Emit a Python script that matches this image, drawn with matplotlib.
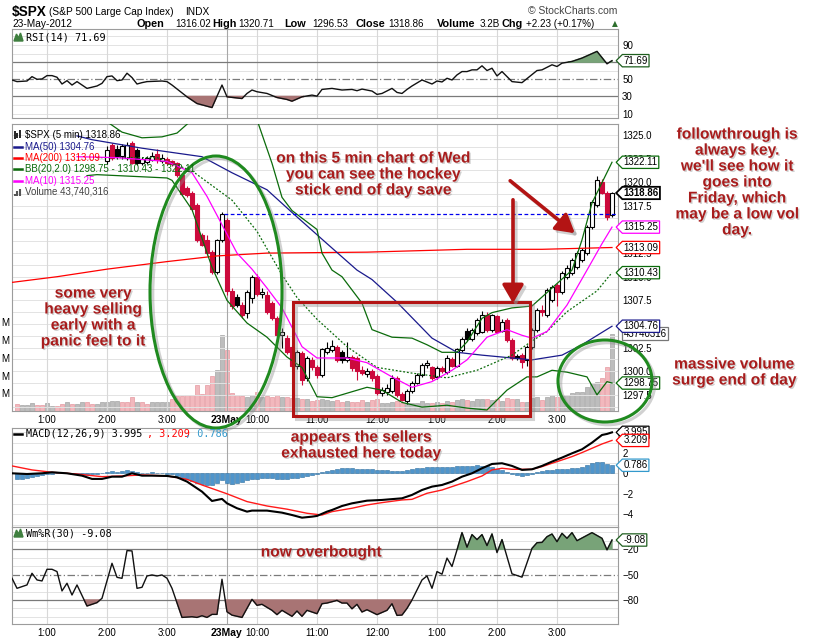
import matplotlib
matplotlib.use("Agg")
import matplotlib.pyplot as plt
import matplotlib.transforms as mtransforms
import matplotlib.patheffects as pe
from matplotlib.patches import Rectangle, Ellipse, FancyArrowPatch
from matplotlib.path import Path

plt.rcParams['font.family'] = ['Liberation Sans', 'DejaVu Sans']

# ---------------- data (5 min bars, index 0 = 22-May 12:30) ----------------
time_ticks = [6, 18, 30, 42, 48, 60, 72, 84, 96, 108]
time_labels = ['1:00', '2:00', '3:00', '23May', '10:00', '11:00', '12:00', '1:00', '2:00', '3:00']
day_break = 42
prev_close = 1316.63

# candles from bar 18 to 119 (earlier bars are above the price scale)
candle_start = 18
opens = [1322.2, 1323.9, 1323.5, 1322.8, 1322.6, 1324.2, 1323.4, 1322.0, 1322.1, 1322.4,
         1323.0, 1322.2, 1322.5, 1322.2, 1322.0, 1320.8, 1319.4, 1318.9, 1317.6, 1314.4,
         1313.9, 1312.6, 1310.5, 1313.9, 1316.02, 1308.5, 1307.9, 1307.0, 1306.2, 1307.7,
         1310.0, 1308.2, 1308.1, 1307.2, 1305.6, 1303.8, 1303.5, 1302.6, 1300.5, 1301.9,
         1299.3, 1301.2, 1300.4, 1299.6, 1302.0, 1302.2, 1302.6, 1302.0, 1301.2, 1301.5,
         1301.4, 1300.1, 1299.7, 1300.0, 1299.5, 1297.7, 1297.8, 1297.9, 1299.3, 1297.6,
         1296.9, 1297.9, 1298.8, 1299.6, 1300.7, 1300.4, 1299.4, 1300.3, 1299.9, 1301.3,
         1300.6, 1302.2, 1304.3, 1303.4, 1304.0, 1304.2, 1306.0, 1304.4, 1305.8, 1304.3,
         1305.4, 1303.3, 1301.6, 1301.7, 1301.2, 1302.6, 1304.4, 1306.5, 1305.9, 1307.5,
         1309.1, 1308.4, 1310.0, 1310.4, 1311.0, 1311.8, 1312.5, 1315.3, 1317.6, 1320.0,
         1318.9, 1316.5]
highs = [1323.8, 1324.1, 1323.9, 1324.0, 1324.3, 1324.4, 1323.6, 1322.7, 1322.8, 1323.2,
         1323.5, 1323.0, 1322.7, 1322.4, 1322.1, 1321.0, 1319.6, 1319.1, 1317.8, 1314.6,
         1314.4, 1312.8, 1314.0, 1316.9, 1316.2, 1308.8, 1308.2, 1307.3, 1308.6, 1310.2,
         1310.3, 1308.8, 1308.5, 1307.4, 1305.8, 1304.6, 1303.8, 1302.8, 1302.2, 1302.1,
         1301.6, 1301.5, 1300.7, 1302.5, 1303.1, 1303.3, 1302.8, 1302.2, 1303.1, 1301.7,
         1301.6, 1300.5, 1300.3, 1300.2, 1299.7, 1298.3, 1298.6, 1299.6, 1299.5, 1297.8,
         1298.1, 1299.0, 1299.8, 1300.9, 1301.2, 1300.6, 1300.5, 1300.6, 1301.7, 1301.5,
         1302.5, 1303.6, 1304.6, 1304.6, 1305.6, 1306.4, 1306.3, 1306.1, 1306.0, 1305.5,
         1305.6, 1303.5, 1301.8, 1301.9, 1302.8, 1304.6, 1306.7, 1307.0, 1308.8, 1309.1,
         1309.3, 1310.6, 1311.2, 1312.0, 1312.7, 1313.0, 1315.5, 1318.1, 1320.71, 1320.3,
         1319.1, 1319.0]
lows = [1321.9, 1322.4, 1322.5, 1322.5, 1322.4, 1321.9, 1321.8, 1321.8, 1321.9, 1322.2,
        1322.0, 1322.0, 1321.8, 1321.7, 1320.6, 1318.6, 1318.4, 1317.0, 1313.7, 1313.2,
        1312.3, 1310.3, 1310.3, 1313.7, 1308.1, 1306.6, 1306.8, 1305.6, 1305.6, 1307.2,
        1308.0, 1307.8, 1306.1, 1305.4, 1303.6, 1302.5, 1301.8, 1300.3, 1300.2, 1298.5,
        1299.0, 1300.1, 1299.3, 1299.4, 1301.8, 1302.0, 1301.0, 1300.9, 1301.0, 1300.0,
        1299.1, 1299.6, 1299.4, 1299.0, 1297.5, 1297.4, 1297.5, 1297.7, 1297.3, 1296.8,
        1296.53, 1297.7, 1298.6, 1299.4, 1300.3, 1299.1, 1299.2, 1299.8, 1299.7, 1300.4,
        1300.4, 1302.0, 1303.2, 1303.2, 1303.8, 1304.0, 1304.2, 1304.2, 1304.0, 1304.1,
        1303.1, 1301.2, 1301.2, 1300.3, 1300.6, 1302.4, 1304.2, 1305.8, 1305.7, 1307.3,
        1306.9, 1308.2, 1309.8, 1310.2, 1310.8, 1311.6, 1312.3, 1315.1, 1317.4, 1318.7,
        1316.0, 1316.3]
closes = [1323.4, 1322.6, 1322.8, 1323.8, 1323.9, 1322.0, 1322.0, 1322.5, 1322.6, 1322.8,
          1322.3, 1322.6, 1322.0, 1321.9, 1320.8, 1318.8, 1318.6, 1317.2, 1313.9, 1313.4,
          1312.5, 1310.5, 1313.9, 1316.63, 1308.5, 1306.9, 1307.0, 1305.9, 1308.4, 1310.0,
          1308.2, 1308.4, 1306.3, 1305.6, 1303.8, 1304.1, 1302.0, 1300.5, 1302.0, 1299.1,
          1301.4, 1300.4, 1299.6, 1302.3, 1302.5, 1302.7, 1301.2, 1301.2, 1301.5, 1300.3,
          1300.0, 1299.8, 1300.0, 1299.3, 1297.7, 1298.0, 1298.2, 1299.3, 1297.5, 1297.0,
          1297.9, 1298.8, 1299.6, 1300.7, 1300.9, 1299.3, 1300.3, 1300.0, 1301.4, 1300.6,
          1302.3, 1303.4, 1303.4, 1304.4, 1305.4, 1306.0, 1304.4, 1305.9, 1304.2, 1305.2,
          1303.3, 1301.4, 1301.4, 1301.0, 1302.6, 1304.4, 1306.5, 1306.3, 1308.6, 1308.9,
          1308.4, 1310.4, 1310.9, 1311.8, 1312.5, 1312.8, 1315.3, 1317.9, 1320.2, 1318.9,
          1316.3, 1318.86]

# volume in millions, one per bar 0..119, with up (g) / down (p) colouring
volume_m = [3.8, 3.5, 3.5, 4.7, 3.5, 3.5, 4.7, 3.1, 3.1, 3.8,
            5.2, 3.8, 3.8, 5.2, 4.8, 4.2, 4.2, 4.8, 4.8, 5.7,
            5.7, 4.8, 5.3, 7.9, 4.8, 5.3, 4.2, 4.8, 5.3, 5.3,
            4.8, 6.6, 8.5, 8.5, 9.0, 9.0, 14.7, 9.5, 14.7, 20.0,
            23.0, 42.9, 34.5, 10.0, 9.0, 8.5, 8.1, 9.0, 10.9, 8.1,
            8.5, 8.1, 9.0, 8.1, 8.1, 7.5, 7.5, 6.5, 6.5, 5.5,
            6.0, 7.0, 6.0, 5.5, 6.0, 5.0, 5.5, 5.0, 5.0, 6.0,
            5.0, 6.0, 7.0, 4.5, 4.5, 5.0, 5.5, 4.5, 4.5, 4.5,
            4.5, 5.5, 4.5, 4.5, 5.0, 4.5, 5.5, 5.0, 6.0, 6.5,
            6.0, 5.5, 6.5, 6.5, 7.0, 6.0, 6.5, 5.5, 7.5, 7.0,
            6.5, 5.3, 5.3, 7.2, 8.1, 6.2, 8.1, 9.0, 8.1, 9.0,
            9.0, 10.0, 10.9, 10.9, 13.7, 15.6, 16.6, 18.5, 25.0, 43.74]
volume_dir = ("pgggppggpp" "gpggppgggg" "gpppgppggg" "gppppppppp"
              "ggppppggpg" "pppgppgpgp" "pgggppgppp" "gppgggppgg"
              "gggpgpgpgg" "pgggpgpgpp" "gpgggpggpg" "gggggggppg")

# overlays: (bar index, price)
ma50_x = [12, 15, 25, 37, 43, 50, 55, 62, 68, 71, 76, 83, 88, 93, 99, 103, 109, 113, 119]
ma50_y = [1324.9, 1324.5, 1323.6, 1322.7, 1321.0, 1319.2, 1316.8, 1313.5, 1310.7, 1309.7,
          1307.3, 1303.5, 1302.0, 1301.7, 1301.4, 1301.2, 1301.7, 1302.8, 1304.76]
ma200_x = [-1, 8, 18, 30, 40, 50, 70, 90, 105, 119]
ma200_y = [1309.4, 1310.0, 1310.8, 1311.6, 1312.2, 1312.5, 1312.6, 1312.9, 1312.9, 1313.09]
bb_up_x = [18, 21, 25, 29, 32, 35, 40, 45, 48, 51, 53, 55, 60, 61, 63, 65, 69, 71, 75, 79,
           82, 85, 88, 90, 93, 95, 99, 103, 107, 111, 113, 115, 119]
bb_up_y = [1326.4, 1325.3, 1324.7, 1324.8, 1325.2, 1326.6, 1329.0, 1329.0, 1326.6, 1322.0,
           1318.4, 1317.0, 1315.0, 1312.5, 1310.7, 1310.0, 1307.2, 1304.4, 1303.6, 1303.5,
           1302.8, 1302.0, 1302.0, 1303.1, 1305.6, 1306.2, 1306.7, 1306.9, 1308.8, 1310.7,
           1313.9, 1317.8, 1322.11]
bb_mid_x = [16, 28, 35, 43, 48, 53, 56, 60, 66, 72, 79, 86, 92, 99, 103, 106, 110, 116, 119]
bb_mid_y = [1322.6, 1322.6, 1321.2, 1318.1, 1314.8, 1310.2, 1307.8, 1305.5, 1302.6, 1300.4,
            1299.8, 1299.3, 1300.1, 1301.7, 1303.2, 1304.2, 1306.3, 1308.5, 1310.43]
bb_low_x = [14, 16, 30, 31, 35, 39, 42, 46, 50, 54, 57, 60, 63, 70, 73, 77, 81, 86, 90, 94,
            98, 102, 104, 107, 110, 114, 116, 118, 119]
bb_low_y = [1320.7, 1320.8, 1320.45, 1320.2, 1317.1, 1311.0, 1307.5, 1305.1, 1303.6, 1301.5,
            1300.4, 1297.3, 1297.2, 1298.3, 1298.0, 1296.7, 1296.2, 1296.4, 1296.1, 1295.9,
            1298.0, 1299.4, 1299.4, 1300.1, 1299.9, 1299.4, 1297.5, 1298.9, 1298.75]
ma10_x = [12, 20, 30, 35, 38, 41, 44, 47, 50, 53, 57, 60, 66, 70, 75, 79, 83, 87, 90, 94,
          98, 101, 103, 106, 110, 114, 117, 119]
ma10_y = [1322.7, 1322.6, 1322.2, 1321.0, 1318.5, 1315.5, 1312.5, 1310.8, 1308.8, 1306.7,
          1302.6, 1301.4, 1301.4, 1300.9, 1299.4, 1298.3, 1298.9, 1300.1, 1301.2, 1303.6,
          1304.4, 1303.8, 1303.5, 1304.2, 1307.0, 1310.7, 1313.5, 1315.25]

rsi_x = [-1, 0, 2, 3, 4, 5, 6, 7, 8, 9, 10, 11, 12, 14, 16, 17, 18, 19, 20, 21, 22, 23, 24,
         25, 26, 29, 30, 31, 34, 36, 39, 41, 42, 45, 46, 47, 48, 50, 52, 54, 55, 57, 59, 60,
         61, 63, 65, 67, 68, 69, 71, 72, 73, 75, 76, 77, 78, 79, 81, 83, 84, 85, 86, 87, 88,
         89, 90, 91, 92, 93, 94, 95, 96, 97, 99, 101, 104, 105, 107, 108, 109, 111, 113, 116,
         118, 119]
rsi_y = [49.2, 47.3, 48.0, 53.1, 50.0, 50.4, 54.3, 54.3, 52.4, 44.5, 48.4, 43.3, 47.3, 39.4,
         42.2, 45.3, 53.1, 53.9, 48.4, 49.2, 57.1, 52.0, 44.5, 46.1, 47.3, 48.0, 47.3, 43.3,
         29.6, 21.8, 17.1, 43.3, 29.6, 27.6, 33.5, 37.5, 35.5, 33.5, 28.8, 26.5, 24.5, 29.6,
         31.6, 30.4, 38.2, 39.4, 37.5, 38.2, 36.7, 38.6, 36.3, 32.4, 33.5, 39.4, 34.7, 33.5,
         38.2, 42.2, 49.2, 44.5, 48.0, 46.9, 51.2, 49.2, 55.1, 59.0, 59.0, 61.0, 61.0, 65.7,
         60.2, 62.9, 53.9, 59.0, 47.3, 46.1, 60.2, 61.0, 66.9, 64.9, 68.8, 70.8, 74.7, 82.5,
         68.0, 71.69]

macd_x = [-1, 2, 5, 7, 10, 13, 15, 17, 19, 21, 23, 25, 27, 30, 32, 34, 37, 39, 41, 42, 44,
          46, 47, 50, 53, 55, 57, 59, 60, 62, 63, 65, 67, 70, 73, 77, 79, 81, 83, 85, 87, 89,
          91, 93, 95, 97, 99, 101, 103, 105, 107, 109, 111, 113, 115, 117, 118, 119]
macd_y = [0.0, -0.07, 0.0, 0.1, 0.0, -0.23, -0.55, -0.55, -0.33, -0.33, 0.0, -0.23, -0.23,
          -0.26, -0.39, -0.81, -1.79, -2.7, -2.5, -2.93, -3.41, -3.74, -3.64, -3.64, -3.84,
          -4.07, -4.33, -4.23, -4.16, -3.74, -3.58, -3.19, -2.93, -2.67, -2.6, -2.44, -2.11,
          -1.63, -1.3, -1.14, -0.81, -0.33, 0.0, 0.49, 0.91, 0.98, 0.72, 0.33, 0.39, 0.72,
          1.14, 1.53, 1.95, 2.34, 2.99, 3.74, 3.84, 3.995]
signal_x = [-1, 3, 7, 12, 17, 21, 25, 30, 34, 37, 42, 46, 50, 54, 58, 61, 63, 67, 70, 73, 77,
            79, 82, 85, 87, 90, 93, 95, 97, 99, 101, 103, 105, 107, 109, 111, 113, 115, 117, 119]
signal_y = [0.72, 0.33, 0.1, -0.07, -0.33, -0.26, -0.16, -0.26, -0.59, -1.14, -2.0, -2.76,
            -3.19, -3.5, -3.9, -4.07, -3.74, -3.41, -3.09, -2.86, -2.6, -2.54, -1.95, -1.63,
            -1.3, -0.81, -0.26, 0.33, 0.49, 0.39, 0.39, 0.39, 0.65, 0.98, 1.3, 1.63, 2.02,
            2.44, 2.86, 3.209]
macd_hist = [-0.55, -0.6, -0.5, -0.4, -0.3, -0.2, -0.1, -0.05, 0.0, 0.05,
             0.0, -0.05, -0.1, -0.15, -0.15, -0.1, -0.05, 0.05, 0.15, 0.2,
             0.15, 0.2, 0.3, 0.2, 0.1, 0.05, 0.05, 0.1, 0.05, 0.0,
             -0.05, -0.1, -0.25, -0.45, -0.6, -0.8, -0.95, -1.05, -1.1, -1.15,
             -0.95, -0.7, -0.95, -1.0, -0.95, -0.85, -0.7, -0.6, -0.55, -0.5,
             -0.5, -0.5, -0.55, -0.55, -0.55, -0.5, -0.45, -0.4, -0.3, -0.2,
             -0.05, 0.1, 0.25, 0.35, 0.45, 0.5, 0.55, 0.5, 0.45, 0.45,
             0.4, 0.4, 0.35, 0.3, 0.3, 0.25, 0.25, 0.2, 0.3, 0.4,
             0.5, 0.55, 0.6, 0.65, 0.65, 0.65, 0.65, 0.65, 0.7, 0.75,
             0.75, 0.75, 0.8, 0.75, 0.7, 0.6, 0.45, 0.3, 0.1, -0.05,
             -0.2, -0.25, -0.15, -0.05, 0.1, 0.2, 0.3, 0.35, 0.4, 0.45,
             0.45, 0.5, 0.55, 0.65, 0.85, 1.05, 1.15, 1.1, 0.95, 0.786]

wr_x = [-1, 0, 2, 3, 4, 5, 6, 7, 8, 9, 10, 11, 12, 14, 16, 17, 19, 20, 21, 22, 23, 24, 25,
        26, 27, 28, 29, 30, 31, 33, 35, 36, 37, 38, 39, 40, 41, 42, 43, 45, 47, 48, 49, 51,
        52, 53, 55, 56, 57, 58, 60, 61, 62, 64, 65, 66, 67, 68, 69, 70, 72, 74, 75, 76, 77,
        78, 79, 81, 82, 83, 84, 85, 86, 87, 88, 89, 90, 91, 92, 93, 94, 95, 96, 97, 99, 101,
        103, 104, 105, 106, 107, 108, 109, 110, 111, 112, 115, 117, 118, 119]
wr_y = [-54.3, -66.2, -62.2, -48.4, -56.3, -57.5, -43.7, -43.7, -46.4, -69.3, -60.2, -74.1,
        -62.2, -87.1, -83.1, -78.0, -36.6, -53.2, -54.4, -21.6, -22.0, -66.2, -65.0, -51.6,
        -50.4, -51.6, -50.4, -54.3, -66.2, -100.6, -99.8, -100.6, -98.6, -100.6, -97.0,
        -97.0, -55.5, -93.9, -97.9, -100.6, -79.2, -86.3, -85.1, -92.2, -97.3, -92.2, -99.3,
        -93.0, -99.3, -92.2, -96.2, -84.4, -83.6, -80.5, -83.6, -83.6, -90.4, -85.1, -94.2,
        -91.5, -97.3, -92.2, -84.4, -98.2, -97.8, -89.9, -80.0, -56.3, -51.6, -66.2, -46.4,
        -49.5, -30.5, -40.4, -20.8, -0.3, -17.6, -2.7, -8.6, -2.7, -15.7, -1.9, -24.0, -8.6,
        -49.1, -53.0, -19.0, -12.3, -11.9, -5.2, -2.0, -11.1, -1.2, -7.1, -0.4, -9.9, -0.4,
        -7.1, -20.8, -9.08]

# ---------------- figure ----------------
W, H = 817, 640
L, R = 12, 618
fig = plt.figure(figsize=(W / 100, H / 100), dpi=100)
fig.patch.set_facecolor('white')


def panel(top, bottom):
    return fig.add_axes([L / W, 1 - bottom / H, (R - L) / W, (bottom - top) / H])


def base(a, ylim, grid_levels, show_x=False):
    a.set_xlim(-1, 120.2)
    a.set_ylim(*ylim)
    for lvl in grid_levels:
        a.axhline(lvl, color='#e3e3e3', lw=0.7, zorder=0)
    for t in time_ticks:
        a.axvline(t, color='#a8a8a8' if t == day_break else '#d8d8d8', lw=0.8, zorder=0)
    for s in a.spines.values():
        s.set_color('#9c9c9c')
        s.set_linewidth(0.8)
    a.yaxis.tick_right()
    a.tick_params(axis='both', length=0, labelsize=7, pad=3)
    a.set_xticks(time_ticks)
    a.set_xticklabels(time_labels)
    a.tick_params(axis='x', labelbottom=show_x)
    if show_x:
        a.get_xticklabels()[3].set_fontweight('bold')
        a.get_xticklabels()[3].set_fontsize(7.5)


def tag_style(x0, y0, width, height, mutation_size):
    pad = 0.12 * mutation_size
    x0, y0 = x0 - pad, y0 - pad
    x1, y1 = x0 + width + 2 * pad, y0 + height + 2 * pad
    hh = (y1 - y0) / 2
    verts = [(x0, y0), (x1, y0), (x1, y1), (x0, y1), (x0 - hh, y0 + hh), (x0, y0), (x0, y0)]
    codes = [Path.MOVETO] + [Path.LINETO] * 5 + [Path.CLOSEPOLY]
    return Path(verts, codes)


def tag(a, yval, label, ec, bold=False, lw=0.9, arrow=True):
    tr = mtransforms.blended_transform_factory(a.transAxes, a.transData)
    a.text(1 + 5.5 / (R - L), yval, label, transform=tr, ha='left', va='center',
           fontsize=7, fontweight='bold' if bold else 'normal', clip_on=False, zorder=30,
           bbox=dict(boxstyle=tag_style if arrow else 'square,pad=0.12', fc='white', ec=ec, lw=lw))


# --- RSI panel ---
ax_rsi = panel(29, 118)
base(ax_rsi, (4.9, 108.6), [10, 20, 40, 60, 80, 90, 100])
ax_rsi.axhline(70, color='#7a7a7a', lw=0.9, zorder=1)
ax_rsi.axhline(30, color='#7a7a7a', lw=0.9, zorder=1)
ax_rsi.axhline(50, color='#7a7a7a', lw=0.9, ls=(0, (6, 2, 1, 2)), zorder=1)
ax_rsi.fill_between(rsi_x, rsi_y, 70, where=[v > 70 for v in rsi_y], interpolate=True,
                    color='#78a378', zorder=2)
ax_rsi.fill_between(rsi_x, rsi_y, 30, where=[v < 30 for v in rsi_y], interpolate=True,
                    color='#a87474', zorder=2)
ax_rsi.plot(rsi_x, rsi_y, color='#111111', lw=1.0, zorder=3)
ax_rsi.set_yticks([10, 30, 50, 90])   # 70 sits under the value tag
tag(ax_rsi, 71.69, '71.69', '#1f5f1f')

# --- price panel with volume underneath ---
ax_vol = panel(124, 411)
ax = panel(124, 411)
ax.patch.set_visible(False)
ax_vol.set_xlim(-1, 120.2)
ax_vol.set_ylim(0, 162)
for s in ax_vol.spines.values():
    s.set_visible(False)
ax_vol.set_xticks([])
ax_vol.set_yticks([10, 20, 30, 40, 50])
ax_vol.set_yticklabels(['M'] * 5)
ax_vol.tick_params(axis='y', length=0, labelsize=7, pad=2)
vcols = ['#bdbdbd' if d == 'g' else '#f2b8bd' for d in volume_dir]
vedges = ['#a5a5a5' if d == 'g' else '#e59aa2' for d in volume_dir]
ax_vol.bar(range(len(volume_m)), volume_m, width=0.82, color=vcols, edgecolor=vedges,
           linewidth=0.5, zorder=2)

base(ax, (1295.79, 1326.16), [1296.25 + 1.25 * k for k in range(25)], show_x=True)
price_ticks = [1297.5, 1300.0, 1302.5, 1307.5, 1310.0, 1312.5, 1317.5, 1320.0, 1322.5, 1325.0]
ax.set_yticks(price_ticks)
ax.set_yticklabels(['%.1f' % p for p in price_ticks])

prev = None
for k in range(len(opens)):
    xi = candle_start + k
    o, h, lo, c = opens[k], highs[k], lows[k], closes[k]
    col = '#cc0a3c' if (prev is not None and c < prev) else '#000000'
    ax.vlines(xi, lo, h, color=col, lw=0.8, zorder=3)
    body_lo, body_h = min(o, c), max(abs(c - o), 0.06)
    if c >= o:
        ax.add_patch(Rectangle((xi - 0.36, body_lo), 0.72, body_h, fc='white', ec=col,
                               lw=0.8, zorder=3.5))
    else:
        ax.add_patch(Rectangle((xi - 0.36, body_lo), 0.72, body_h, fc=col, ec=col,
                               lw=0.8, zorder=3.5))
    prev = c

ax.plot(ma200_x, ma200_y, color='#ff0000', lw=0.9, zorder=4)
ax.plot(ma50_x, ma50_y, color='#1a1a8c', lw=0.9, zorder=4)
ax.plot(bb_up_x, bb_up_y, color='#0b6b0b', lw=0.9, zorder=4)
ax.plot(bb_low_x, bb_low_y, color='#0b6b0b', lw=0.9, zorder=4)
ax.plot(bb_mid_x, bb_mid_y, color='#0b6b0b', lw=0.9, ls=(0, (1.5, 1.5)), zorder=4)
ax.plot(ma10_x, ma10_y, color='#ff00ff', lw=0.9, zorder=4)
ax.hlines(prev_close, day_break - 0.5, 120.2, color='#0000ee', lw=0.9, ls=(0, (3, 2)), zorder=4)

tag(ax, 1322.11, '1322.11', '#0b6b0b')
tag(ax, 1318.86, '1318.86', '#000000', bold=True, lw=1.3)
tag(ax, 1315.25, '1315.25', '#ff00ff')
tag(ax, 1313.09, '1313.09', '#ff0000')
tag(ax, 1310.43, '1310.43', '#0b6b0b')
tag(ax, 1304.76, '1304.76', '#1a1a8c')
tag(ax_vol, 43.74, '43740316', '#777777', arrow=False)
tag(ax, 1298.75, '1298.75', '#0b6b0b')

# --- MACD panel ---
ax_macd = panel(428, 527)
base(ax_macd, (-5.24, 4.42), [-5, -4, -3, -2, -1, 0, 1, 2, 3, 4])
ax_macd.bar(range(len(macd_hist)), macd_hist, width=0.85, color='#4f95cc',
            edgecolor='#2d6e9e', linewidth=0.4, zorder=2)
ax_macd.plot(signal_x, signal_y, color='#ff1a1a', lw=1.0, zorder=3)
ax_macd.plot(macd_x, macd_y, color='#000000', lw=1.5, zorder=4)
ax_macd.set_yticks([-4, -2, 0, 2])   # 4 sits under the value tags
tag(ax_macd, 3.995, '3.995', '#000000')
tag(ax_macd, 3.209, '3.209', '#ff0000')
tag(ax_macd, 0.786, '0.786', '#3399cc')

# --- Williams %R panel ---
ax_wr = panel(527, 624)
base(ax_wr, (-108.4, 6.3), [-100, -90, -70, -60, -40, -30, -10, 0], show_x=True)
ax_wr.axhline(-20, color='#7a7a7a', lw=0.9, zorder=1)
ax_wr.axhline(-80, color='#7a7a7a', lw=0.9, zorder=1)
ax_wr.axhline(-50, color='#7a7a7a', lw=0.9, ls=(0, (6, 2, 1, 2)), zorder=1)
ax_wr.fill_between(wr_x, wr_y, -20, where=[v > -20 for v in wr_y], interpolate=True,
                   color='#78a378', zorder=2)
ax_wr.fill_between(wr_x, wr_y, -80, where=[v < -80 for v in wr_y], interpolate=True,
                   color='#a87474', zorder=2)
ax_wr.plot(wr_x, wr_y, color='#111111', lw=1.0, zorder=3)
ax_wr.set_yticks([-80, -50, -20])
tag(ax_wr, -9.08, '-9.08', '#1f5f1f')

# ---------------- header, legends and hand-drawn notes (pixel overlay) ----------------
ov = fig.add_axes([0, 0, 1, 1], zorder=20)
ov.set_xlim(0, W)
ov.set_ylim(H, 0)
ov.axis('off')

ov.text(12, 12, '$SPX', fontsize=9.8, fontweight='bold', va='center')
ov.text(49, 12, '(S&P 500 Large Cap Index)', fontsize=7.3, va='center')
ov.text(185, 12, 'INDX', fontsize=7.3, va='center')
ov.text(528, 11, '\u00a9 StockCharts.com', fontsize=7.5, va='center', color='#444444')
ov.text(12, 24, '23-May-2012', fontsize=7.3, va='center')
header = [(137, 'Open', True), (175, '1316.02', False), (212, 'High', True),
          (238, '1320.71', False), (284, 'Low', True), (312, '1296.53', False),
          (356, 'Close', True), (388, '1318.86', False), (437, 'Volume', True),
          (480, '3.2B', False), (502, 'Chg', True), (526, '+2.23 (+0.17%)', False)]
for hx, htxt, hb in header:
    ov.text(hx, 24, htxt, fontsize=7.8 if hb else 7.1, fontweight='bold' if hb else 'normal',
            va='center')
ov.text(612, 24, '\u25b2', fontsize=5.5, va='center', color='#2d6e2d', family='DejaVu Sans')

mono = 'DejaVu Sans Mono'
ov.fill([14, 16.5, 18.5, 20.5, 23], [41, 34, 38, 33, 41], color='#3f7f3f')
ov.text(26, 37, 'RSI(14) 71.69', family=mono, fontsize=7.3, va='center')
ov.fill([14, 16.5, 18.5, 20.5, 23], [537, 530, 534, 529, 537], color='#3f7f3f')
ov.text(26, 533, 'Wm%R(30) -9.08', family=mono, fontsize=7.3, va='center')
ov.plot([14, 22], [434, 434], color='black', lw=1.8)
ov.text(26, 434, 'MACD(12,26,9) 3.995', family=mono, fontsize=7.3, va='center')
ov.text(147, 434, ', 3.209', family=mono, fontsize=7.3, va='center', color='#ff0000')
ov.text(185, 434, ', 0.786', family=mono, fontsize=7.3, va='center', color='#3399cc')

legend_rows = [(135, '#000000', '$SPX (5 min) 1318.86'), (147, '#1a1a8c', 'MA(50) 1304.76'),
               (158, '#ff0000', 'MA(200) 1313.09'),
               (169, '#0b6b0b', 'BB(20,2.0) 1298.75 - 1310.43 - 1322.11'),
               (181, '#ff00ff', 'MA(10) 1315.25'), (192, '#444444', 'Volume 43,740,316')]
for ly, lc, lt in legend_rows:
    if lt.startswith('MA') or lt.startswith('BB'):
        ov.plot([14, 22], [ly, ly], color=lc, lw=1.8)
    ov.text(25, ly, lt, fontsize=7, va='center', color=lc)
ov.vlines([15, 17.5, 20], [194, 191, 189], [196, 196, 196], color='#555555', lw=1.5)
ov.vlines([15, 17.5, 20], [131, 133, 130], [139, 138, 138], color='#000000', lw=1.2)

note_red = '#a81c1c'
shadow = [pe.withSimplePatchShadow(offset=(1, -1), shadow_rgbFace='#999999', alpha=0.45)]
notes = [(373, 174, 'on this 5 min chart of Wed\nyou can see the hockey\nstick end of day save'),
         (93, 317, 'some very\nheavy selling\nearly with a\npanic feel to it'),
         (737, 182, 'followthrough is\nalways key.\nwe\'ll see how it\ngoes into\n'
                    'Friday, which\nmay be a low vol\nday.'),
         (734, 372, 'massive volume\nsurge end of day'),
         (361, 445, 'appears the sellers\nexhausted here today'),
         (321, 552, 'now overbought')]
for nx, ny, nt in notes:
    ov.text(nx, ny, nt, fontsize=11.2, fontweight='bold', color=note_red, ha='center',
            va='center', linespacing=1.08, path_effects=shadow)

green = '#1f8a1f'
lshadow = [pe.SimpleLineShadow(offset=(2, -2), shadow_color='#8c8c8c', alpha=0.4), pe.Normal()]
ov.add_patch(Ellipse((216, 292), 132, 272, fill=False, ec=green, lw=2.2, path_effects=lshadow))
ov.add_patch(Ellipse((605, 381), 94, 82, fill=False, ec=green, lw=2.2, path_effects=lshadow))
ov.add_patch(Rectangle((293, 302), 237, 114, fill=False, ec='#b31414', lw=2.2,
                       path_effects=lshadow))
for p0, p1 in [((513, 197), (513, 306)), ((508, 179), (577, 235))]:
    ov.add_patch(FancyArrowPatch(p0, p1, arrowstyle='-|>,head_length=0.55,head_width=0.32',
                                 mutation_scale=20, lw=2.6, color='#b31414',
                                 path_effects=lshadow))

fig.savefig('out.png', dpi=100)
